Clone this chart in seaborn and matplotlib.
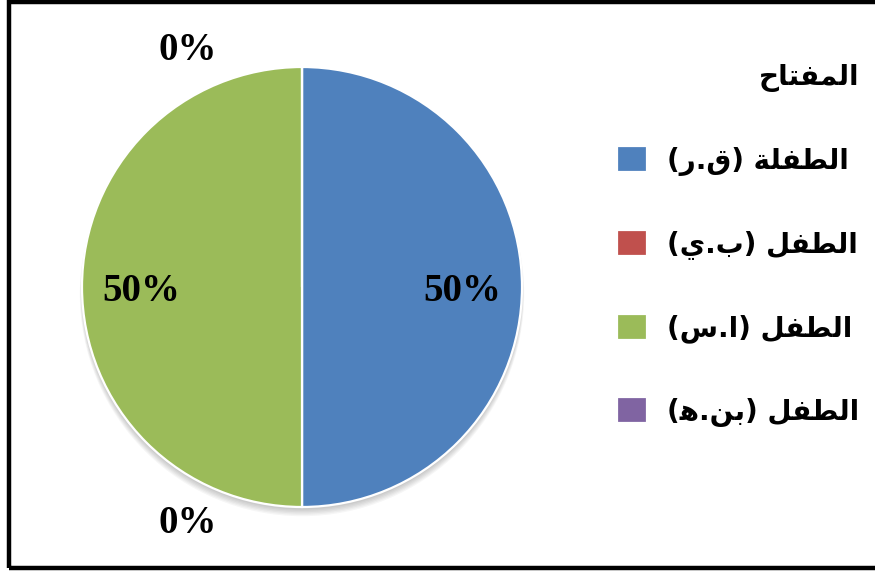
import matplotlib
matplotlib.use("Agg")
import matplotlib.pyplot as plt
from matplotlib.patches import Rectangle, Circle
import numpy as np
import seaborn as sns

# Data
children = ["الطفلة (ق.ر)", "الطفل (ب.ي)", "الطفل (ا.س)", "الطفل (بن.هـ)"]
shares = [50, 0, 50, 0]
legend_title = "المفتاح"
colors = ["#4F81BD", "#C0504D", "#9BBB59", "#8064A2"]

# Minimal Arabic shaping: (isolated, final, initial, medial)
FORMS = {
    "ا": ("\uFE8D", "\uFE8E", None, None),
    "ة": ("\uFE93", "\uFE94", None, None),
    "ر": ("\uFEAD", "\uFEAE", None, None),
    "ل": ("\uFEDD", "\uFEDE", "\uFEDF", "\uFEE0"),
    "ط": ("\uFEC1", "\uFEC2", "\uFEC3", "\uFEC4"),
    "ف": ("\uFED1", "\uFED2", "\uFED3", "\uFED4"),
    "ق": ("\uFED5", "\uFED6", "\uFED7", "\uFED8"),
    "ب": ("\uFE8F", "\uFE90", "\uFE91", "\uFE92"),
    "ي": ("\uFEF1", "\uFEF2", "\uFEF3", "\uFEF4"),
    "س": ("\uFEB1", "\uFEB2", "\uFEB3", "\uFEB4"),
    "ن": ("\uFEE5", "\uFEE6", "\uFEE7", "\uFEE8"),
    "ه": ("\uFEE9", "\uFEEA", "\uFEEB", "\uFEEC"),
    "م": ("\uFEE1", "\uFEE2", "\uFEE3", "\uFEE4"),
    "ت": ("\uFE95", "\uFE96", "\uFE97", "\uFE98"),
    "ح": ("\uFEA1", "\uFEA2", "\uFEA3", "\uFEA4"),
    # tatweel only keeps the previous letter in its joining form
    "ـ": ("", "", "", ""),
}
MIRROR = {"(": ")", ")": "("}


def dual(c):
    return c in FORMS and FORMS[c][2] is not None


def rtl(text):
    """Pick contextual glyph forms and return the string in visual order."""
    out = []
    for i, c in enumerate(text):
        if c not in FORMS:
            out.append(MIRROR.get(c, c))
            continue
        prev = text[i - 1] if i > 0 else ""
        nxt = text[i + 1] if i + 1 < len(text) else ""
        jp = dual(prev)
        jn = dual(c) and nxt in FORMS
        iso, fin, ini, med = FORMS[c]
        if jp and jn:
            out.append(med)
        elif jp:
            out.append(fin)
        elif jn:
            out.append(ini)
        else:
            out.append(iso)
    return "".join(reversed(out))


sns.set_theme(style="white")
plt.rcParams["font.family"] = ["DejaVu Sans"]
plt.rcParams["text.color"] = "black"

W, H = 875, 571
fig = plt.figure(figsize=(W / 100, H / 100), dpi=100)
fig.patch.set_facecolor("white")

# pie axes: centre (302, 287) px, radius 220 px
cx, cy, r = 302, 287, 220
ax = fig.add_axes([(cx - r) / W, (H - cy - r) / H, 2 * r / W, 2 * r / H])

# soft drop shadow under the pie
for k in range(6):
    ax.add_patch(Circle((0, -0.012 - 0.004 * k), 1.0 + 0.002 * k,
                        facecolor="black", edgecolor="none",
                        alpha=0.035, zorder=0, clip_on=False))

wedges, _ = ax.pie(
    shares, colors=colors, startangle=90, counterclock=False, radius=1,
    wedgeprops=dict(edgecolor="white", linewidth=1.6, zorder=2),
)
ax.set_xlim(-1, 1)
ax.set_ylim(-1, 1)
ax.set_aspect("equal")
ax.axis("off")

lab_font = dict(family="Liberation Serif", fontweight="bold", fontsize=28,
                color="black", ha="center", va="center", zorder=3)
for w, v in zip(wedges, shares):
    mid = np.deg2rad((w.theta1 + w.theta2) / 2)
    if v > 0:
        x, y = 0.73 * np.cos(mid), 0.73 * np.sin(mid) - 0.02
    else:
        x, y = -0.52, 1.075 * np.sin(mid)
    ax.text(x, y, f"{v}%", clip_on=False, **lab_font)

# legend
leg = fig.legend(
    wedges, [rtl(c) for c in children], title=rtl(legend_title),
    loc="upper left", bbox_to_anchor=(617 / W, 1 - 63 / H),
    frameon=False, prop=dict(family="DejaVu Sans", weight="bold", size=20),
    title_fontproperties=dict(family="DejaVu Sans", weight="bold", size=20),
    handlelength=1.08, handleheight=1.08, handletextpad=0.72,
    labelspacing=1.95, alignment="right", borderaxespad=0, borderpad=0,
)
for t in leg.get_texts():
    t.set_color("black")
leg.get_title().set_color("black")
for p in leg.get_patches():
    p.set_edgecolor("white")

# outer frame
fig.patches.append(Rectangle((9 / W, 3 / H), 1.2, (H - 5) / H,
                             transform=fig.transFigure, fill=False,
                             edgecolor="black", linewidth=3.2, clip_on=False))

fig.savefig("out.png", dpi=100, facecolor="white")
